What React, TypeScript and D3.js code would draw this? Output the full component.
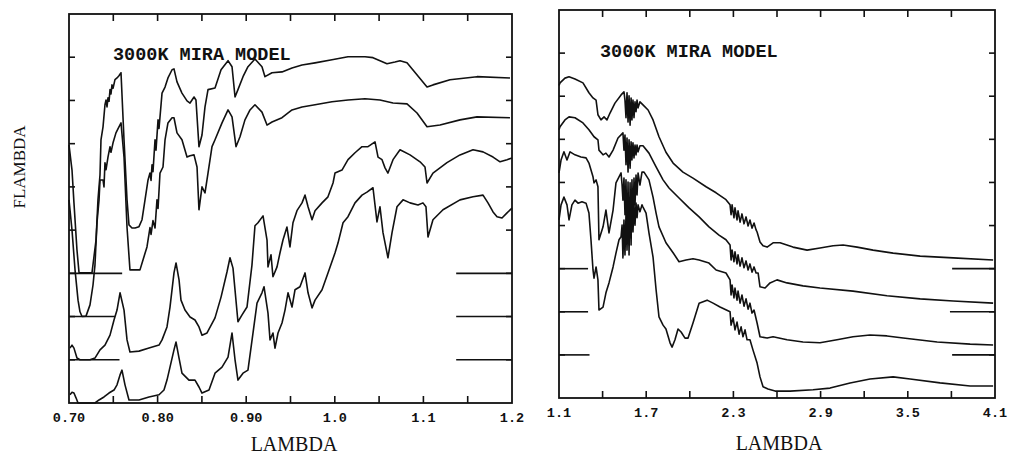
import React from "react";
import * as d3 from "d3";

type P = [number, number];

// Left panel (0.70 - 1.20 micron), flux relative to each curve's zero line
const leftA: P[] = [[0.700,2.97],[0.7034,2.39],[0.7056,1.63],[0.709,0.54],[0.7113,0.02],[0.718,0.01],[0.726,0.02],[0.7305,0.77],[0.7327,1.70],[0.735,2.28],[0.7361,3.09],[0.7384,3.39],[0.7406,3.90],[0.7418,4.01],[0.7429,3.85],[0.744,4.06],[0.7452,3.98],[0.7463,4.25],[0.7474,4.15],[0.7485,4.36],[0.7497,4.28],[0.7519,4.48],[0.7542,4.52],[0.7564,4.57],[0.7587,4.64],[0.7621,3.09],[0.7655,1.70],[0.7677,1.12],[0.7711,1.05],[0.7745,1.05],[0.779,1.08],[0.7824,1.24],[0.7858,1.70],[0.7892,2.16],[0.7914,2.32],[0.7926,2.15],[0.7937,2.51],[0.7948,2.35],[0.7971,3.09],[0.7982,2.85],[0.8005,3.55],[0.8016,3.35],[0.805,4.17],[0.8084,4.31],[0.8117,4.52],[0.8163,4.71],[0.8185,4.73],[0.8219,4.43],[0.8275,4.17],[0.8332,3.99],[0.8366,3.94],[0.8411,4.08],[0.8433,4.01],[0.8467,2.93],[0.8501,3.20],[0.8535,3.85],[0.8569,4.25],[0.8648,4.29],[0.8716,4.71],[0.8795,4.92],[0.884,4.78],[0.8874,4.08],[0.8907,4.25],[0.8964,4.55],[0.902,4.78],[0.9099,4.96],[0.9178,4.78],[0.9212,4.55],[0.9291,4.64],[0.9404,4.66],[0.9517,4.75],[0.963,4.82],[0.9777,4.87],[0.9968,4.94],[1.0149,5.01],[1.0341,5.01],[1.0431,4.99],[1.0589,4.85],[1.0679,4.89],[1.0736,4.92],[1.0815,4.87],[1.1041,4.31],[1.1108,4.36],[1.13,4.48],[1.1605,4.55],[1.1977,4.52]];

const leftB: P[] = [[0.700,2.70],[0.7034,2.00],[0.7068,1.08],[0.7102,0.38],[0.7124,0.11],[0.7147,0.0],[0.7192,0.01],[0.7237,0.27],[0.7271,0.73],[0.7293,1.19],[0.7316,2.17],[0.7339,2.70],[0.735,3.16],[0.7384,3.16],[0.7395,3.00],[0.7406,3.56],[0.7418,3.40],[0.744,3.69],[0.7463,3.93],[0.7474,3.80],[0.7497,4.02],[0.753,4.25],[0.7564,4.39],[0.7587,4.48],[0.7621,3.69],[0.7655,2.06],[0.7688,1.08],[0.7745,1.08],[0.7801,1.08],[0.7835,1.31],[0.788,1.61],[0.7914,2.06],[0.7926,1.90],[0.7948,2.22],[0.7971,2.05],[0.7993,2.70],[0.8005,2.50],[0.8027,3.32],[0.8061,3.46],[0.8084,4.09],[0.8117,4.48],[0.8163,4.60],[0.8185,4.60],[0.8219,4.25],[0.8275,4.09],[0.8332,3.69],[0.8366,3.72],[0.8411,3.74],[0.8445,3.46],[0.8467,2.47],[0.8501,3.00],[0.8535,2.86],[0.8569,3.32],[0.8614,3.93],[0.8648,4.09],[0.8727,4.48],[0.8795,4.78],[0.884,4.62],[0.8885,3.93],[0.893,4.16],[0.8986,4.55],[0.9043,4.78],[0.9099,4.90],[0.9178,4.73],[0.9235,4.43],[0.9291,4.50],[0.9404,4.60],[0.9517,4.78],[0.963,4.85],[0.9777,4.90],[0.9968,4.97],[1.0149,5.01],[1.0341,5.04],[1.051,5.01],[1.0657,4.94],[1.0815,4.92],[1.0928,4.71],[1.1041,4.39],[1.1187,4.43],[1.1413,4.55],[1.1605,4.62],[1.1977,4.60]];

const leftC: P[] = [[0.7011,0.27],[0.7034,0.34],[0.7056,0.27],[0.709,0.04],[0.7124,0.0],[0.7237,0.0],[0.7293,0.04],[0.735,0.23],[0.7406,0.34],[0.7463,0.57],[0.7508,0.92],[0.7542,1.15],[0.7576,1.55],[0.7621,1.15],[0.7655,0.46],[0.7688,0.18],[0.779,0.20],[0.7903,0.27],[0.8016,0.34],[0.805,0.46],[0.8106,0.76],[0.814,1.22],[0.8185,2.01],[0.8208,2.24],[0.8242,1.85],[0.8264,1.38],[0.8309,1.15],[0.8366,0.99],[0.8422,0.92],[0.8467,0.76],[0.8501,0.57],[0.8558,0.62],[0.8648,0.97],[0.8716,1.45],[0.8783,2.03],[0.8817,2.36],[0.8851,2.12],[0.8907,0.88],[0.8953,1.04],[0.9009,1.22],[0.9065,2.19],[0.9099,3.10],[0.9133,3.17],[0.919,3.33],[0.9235,2.77],[0.9246,2.15],[0.928,2.43],[0.9302,1.92],[0.9348,2.15],[0.9381,2.47],[0.9415,2.77],[0.946,3.07],[0.9494,2.61],[0.9528,3.17],[0.9573,3.45],[0.963,3.63],[0.9664,3.81],[0.9698,3.54],[0.9743,3.24],[0.9777,3.45],[0.9856,3.63],[0.9923,3.77],[0.998,4.09],[1.0002,4.32],[1.0081,4.39],[1.0149,4.63],[1.0228,4.79],[1.0307,4.93],[1.0375,4.93],[1.0454,5.04],[1.0488,4.69],[1.0533,4.63],[1.0567,4.44],[1.06,4.32],[1.0657,4.63],[1.0736,4.86],[1.0849,4.74],[1.0962,4.58],[1.1018,4.46],[1.1041,4.09],[1.1108,4.32],[1.1266,4.56],[1.1413,4.74],[1.156,4.86],[1.1673,4.81],[1.1786,4.69],[1.1865,4.58],[1.1944,4.63],[1.2,4.67]];

const leftD: P[] = [[0.7011,0.19],[0.7034,0.25],[0.7056,0.23],[0.7079,0.12],[0.7102,0.0],[0.7293,0.0],[0.7339,0.07],[0.7395,0.14],[0.7451,0.23],[0.7508,0.30],[0.7542,0.42],[0.7576,0.65],[0.7598,0.76],[0.7632,0.42],[0.7677,0.07],[0.779,0.07],[0.7903,0.14],[0.8016,0.19],[0.8072,0.30],[0.8106,0.53],[0.814,0.83],[0.8185,1.23],[0.8208,1.41],[0.8242,1.04],[0.8275,0.69],[0.8354,0.53],[0.8422,0.53],[0.8467,0.37],[0.8501,0.23],[0.858,0.30],[0.8648,0.69],[0.8727,0.83],[0.8795,1.06],[0.884,1.62],[0.8874,1.00],[0.8907,0.53],[0.8964,0.69],[0.902,0.76],[0.9077,1.62],[0.9122,2.31],[0.9178,2.55],[0.9201,2.69],[0.9246,2.08],[0.9269,1.46],[0.9302,1.62],[0.9325,1.27],[0.9359,1.62],[0.9404,1.85],[0.9438,2.15],[0.9472,2.55],[0.9517,2.22],[0.9551,2.62],[0.9607,2.69],[0.9664,3.01],[0.9698,2.55],[0.9743,2.20],[0.9777,2.38],[0.9856,2.62],[0.9923,3.01],[1.0002,3.47],[1.0036,3.70],[1.0093,4.17],[1.0149,4.31],[1.0228,4.63],[1.0307,4.81],[1.0363,4.88],[1.0431,4.98],[1.0476,4.19],[1.051,4.54],[1.0544,3.94],[1.06,3.36],[1.0646,3.94],[1.0702,4.54],[1.077,4.70],[1.0849,4.63],[1.0939,4.58],[1.0995,4.63],[1.1029,4.54],[1.1052,3.84],[1.1108,4.24],[1.1221,4.47],[1.1413,4.70],[1.156,4.77],[1.1673,4.81],[1.1729,4.63],[1.1786,4.42],[1.1831,4.31],[1.1887,4.28],[1.1944,4.40],[1.2,4.51]];

// Right panel (1.1 - 4.1 micron)
const rightA: P[] = [[1.1,4.25],[1.107,4.31],[1.141,4.42],[1.169,4.45],[1.21,4.40],[1.265,4.31],[1.306,4.08],[1.334,3.96],[1.355,3.91],[1.368,3.57],[1.389,3.45],[1.41,3.52],[1.43,3.45],[1.451,3.61],[1.485,3.84],[1.527,4.03],[1.547,4.10],[1.554,3.91],[1.561,3.50],[1.568,4.08],[1.575,3.40],[1.582,4.01],[1.589,3.33],[1.596,3.96],[1.602,3.45],[1.609,3.91],[1.616,3.50],[1.623,3.87],[1.63,3.64],[1.637,3.91],[1.644,3.73],[1.657,3.87],[1.678,3.80],[1.713,3.68],[1.747,3.45],[1.788,3.06],[1.836,2.70],[1.885,2.45],[1.953,2.24],[2.022,2.10],[2.112,1.90],[2.181,1.76],[2.249,1.60],[2.277,1.48],[2.284,1.25],[2.291,1.48],[2.304,1.18],[2.311,1.41],[2.325,1.13],[2.332,1.34],[2.346,1.08],[2.359,1.27],[2.373,1.04],[2.387,1.20],[2.401,0.99],[2.414,1.13],[2.428,0.94],[2.442,1.06],[2.456,0.90],[2.463,0.85],[2.483,0.62],[2.504,0.53],[2.532,0.50],[2.573,0.60],[2.621,0.60],[2.71,0.50],[2.807,0.43],[2.896,0.48],[2.986,0.53],[3.055,0.55],[3.151,0.50],[3.261,0.43],[3.399,0.36],[3.585,0.29],[3.812,0.25],[4.087,0.20]];

const rightB: P[] = [[1.1,4.22],[1.107,4.29],[1.141,4.45],[1.169,4.52],[1.21,4.50],[1.265,4.38],[1.306,4.22],[1.341,4.06],[1.368,3.99],[1.375,3.75],[1.403,3.64],[1.423,3.68],[1.444,3.59],[1.472,3.75],[1.506,4.03],[1.54,4.15],[1.547,3.75],[1.554,4.10],[1.561,3.41],[1.568,4.03],[1.575,3.24],[1.582,3.99],[1.589,3.33],[1.596,3.94],[1.602,3.52],[1.609,3.92],[1.616,3.57],[1.623,3.87],[1.63,3.64],[1.637,3.87],[1.644,3.71],[1.657,3.85],[1.678,3.85],[1.719,3.68],[1.768,3.36],[1.816,3.06],[1.857,2.87],[1.926,2.64],[1.995,2.41],[2.064,2.20],[2.132,1.97],[2.201,1.78],[2.249,1.67],[2.277,1.55],[2.284,1.20],[2.291,1.43],[2.304,1.16],[2.311,1.39],[2.325,1.11],[2.332,1.32],[2.346,1.06],[2.359,1.25],[2.373,1.02],[2.387,1.18],[2.401,0.97],[2.414,1.11],[2.428,0.92],[2.442,1.04],[2.456,0.90],[2.47,0.90],[2.483,0.58],[2.518,0.55],[2.552,0.67],[2.6,0.74],[2.669,0.67],[2.779,0.60],[2.896,0.55],[3.123,0.48],[3.357,0.37],[3.585,0.30],[3.812,0.25],[4.087,0.20]];

const rightC: P[] = [[1.1,4.22],[1.114,4.52],[1.134,4.71],[1.155,4.52],[1.176,4.71],[1.21,4.64],[1.251,4.59],[1.286,4.57],[1.306,4.45],[1.334,4.13],[1.341,3.99],[1.355,4.06],[1.368,3.90],[1.375,2.67],[1.403,2.97],[1.423,3.36],[1.444,2.83],[1.472,3.36],[1.492,3.99],[1.527,4.22],[1.534,3.94],[1.54,3.59],[1.547,4.10],[1.554,3.25],[1.561,4.06],[1.568,2.67],[1.575,4.01],[1.582,2.32],[1.589,3.99],[1.596,2.55],[1.602,4.06],[1.609,3.02],[1.616,4.10],[1.623,3.48],[1.63,4.17],[1.637,3.71],[1.644,4.22],[1.657,3.94],[1.671,4.24],[1.685,4.24],[1.719,4.06],[1.747,3.66],[1.768,3.29],[1.788,2.97],[1.836,2.60],[1.885,2.37],[1.926,2.16],[1.974,2.20],[2.022,2.23],[2.064,2.20],[2.132,2.13],[2.181,1.97],[2.249,1.90],[2.277,1.74],[2.284,1.39],[2.291,1.62],[2.304,1.32],[2.311,1.55],[2.325,1.27],[2.332,1.48],[2.346,1.20],[2.359,1.39],[2.373,1.13],[2.387,1.30],[2.401,1.06],[2.414,1.20],[2.428,0.97],[2.442,1.04],[2.463,0.74],[2.483,0.42],[2.532,0.39],[2.573,0.42],[2.669,0.35],[2.779,0.30],[2.896,0.28],[3.013,0.35],[3.123,0.42],[3.24,0.46],[3.357,0.44],[3.468,0.39],[3.702,0.30],[3.929,0.25],[4.087,0.23]];

const rightD: P[] = [[1.1,4.13],[1.114,4.48],[1.134,4.66],[1.155,4.48],[1.169,4.13],[1.189,4.48],[1.21,4.59],[1.231,4.52],[1.258,4.55],[1.286,4.52],[1.306,4.29],[1.32,3.67],[1.334,2.97],[1.341,2.78],[1.355,3.04],[1.368,2.74],[1.375,2.04],[1.403,2.11],[1.423,2.44],[1.444,2.67],[1.472,3.04],[1.492,3.36],[1.513,3.67],[1.527,3.74],[1.534,4.01],[1.54,3.25],[1.547,4.13],[1.554,3.32],[1.561,4.25],[1.568,3.43],[1.575,4.32],[1.582,3.55],[1.589,4.41],[1.596,3.71],[1.602,4.48],[1.609,3.85],[1.616,4.48],[1.623,4.01],[1.63,4.52],[1.637,4.18],[1.644,4.48],[1.657,4.32],[1.671,4.48],[1.678,4.43],[1.699,4.29],[1.719,3.83],[1.747,3.27],[1.768,2.51],[1.788,1.88],[1.816,1.69],[1.836,1.60],[1.864,1.28],[1.878,1.18],[1.898,1.35],[1.919,1.60],[1.94,1.53],[1.967,1.39],[1.988,1.39],[2.022,1.74],[2.064,2.20],[2.119,2.27],[2.16,2.20],[2.208,2.11],[2.277,2.00],[2.284,1.69],[2.298,1.86],[2.311,1.58],[2.325,1.76],[2.339,1.48],[2.353,1.65],[2.366,1.42],[2.38,1.58],[2.394,1.35],[2.414,1.35],[2.435,1.11],[2.463,0.81],[2.483,0.49],[2.504,0.26],[2.538,0.21],[2.587,0.16],[2.69,0.16],[2.848,0.19],[2.965,0.23],[3.103,0.35],[3.24,0.44],[3.399,0.49],[3.516,0.44],[3.722,0.35],[3.929,0.28],[4.087,0.28]];

const offsets = [3, 2, 1, 0];

const leftTickVals = [0.75, 0.8, 0.85, 0.9, 0.95, 1.0, 1.05, 1.1, 1.15];
const leftLabelVals = [0.7, 0.8, 0.9, 1.0, 1.1, 1.2];
const leftLabels = ["0.70", "0.80", "0.90", "1.0", "1.1", "1.2"];
const rightTickVals = [1.4, 1.7, 2.0, 2.3, 2.6, 2.9, 3.2, 3.5, 3.8];
const rightLabelVals = [1.1, 1.7, 2.3, 2.9, 3.5, 4.1];
const rightLabels = ["1.1", "1.7", "2.3", "2.9", "3.5", "4.1"];
const yTickVals = [1, 2, 3, 4, 5, 6, 7, 8];

// zero-level marks: [offset, x0, x1]
const leftZeroMarks: [number, number, number][] = [[3, 0.70, 0.76], [2, 0.70, 0.752], [1, 0.70, 0.757], [3, 1.137, 1.2], [2, 1.137, 1.2], [1, 1.137, 1.2]];
const rightZeroMarks: [number, number, number][] = [[3, 1.1, 1.30], [2, 1.1, 1.30], [1, 1.1, 1.31], [3, 3.805, 4.1], [2, 3.79, 4.1], [1, 3.805, 4.1]];

const title = "3000K MIRA MODEL";

type PanelProps = {
  xDomain: [number, number];
  xRange: [number, number];
  yRange: [number, number];
  curves: P[][];
  ticks: number[];
  labelVals: number[];
  labels: string[];
  zeroMarks: [number, number, number][];
  labelBaseline: number;
  titleX: number;
  titleY: number;
  xTitleX: number;
  xTitleY: number;
};

function Panel(p: PanelProps) {
  const x = d3.scaleLinear().domain(p.xDomain).range(p.xRange);
  const y = d3.scaleLinear().domain([0, 9]).range(p.yRange);
  const [x0, x1] = p.xRange;
  const [yb, yt] = p.yRange;
  const tl = 7;
  return (
    <g>
      {p.curves.map((c, i) => {
        const line = d3
          .line<P>()
          .x((d) => x(d[0]))
          .y((d) => y(d[1] + offsets[i]));
        return <path key={i} d={line(c) || ""} fill="none" stroke="#111" strokeWidth={1.6} strokeLinejoin="round" />;
      })}
      {p.zeroMarks.map((m, i) => (
        <line key={"z" + i} x1={x(m[1])} x2={x(m[2])} y1={y(m[0])} y2={y(m[0])} stroke="#111" strokeWidth={1.6} />
      ))}
      <rect x={x0} y={yt} width={x1 - x0} height={yb - yt} fill="none" stroke="#111" strokeWidth={1.8} />
      {p.ticks.map((t, i) => (
        <g key={"t" + i}>
          <line x1={x(t)} x2={x(t)} y1={yt} y2={yt + tl} stroke="#111" strokeWidth={1.6} />
          <line x1={x(t)} x2={x(t)} y1={yb} y2={yb - tl} stroke="#111" strokeWidth={1.6} />
        </g>
      ))}
      {yTickVals.map((t, i) => (
        <g key={"y" + i}>
          <line x1={x0} x2={x0 + 6} y1={y(t)} y2={y(t)} stroke="#111" strokeWidth={1.6} />
          <line x1={x1} x2={x1 - 6} y1={y(t)} y2={y(t)} stroke="#111" strokeWidth={1.6} />
        </g>
      ))}
      {p.labelVals.map((v, i) => (
        <text key={"l" + i} x={x(v)} y={p.labelBaseline} textAnchor="middle" fontFamily="'Liberation Mono', monospace" fontWeight="bold" fontSize={13.5} fill="#111">
          {p.labels[i]}
        </text>
      ))}
      <text x={p.titleX} y={p.titleY} fontFamily="'Liberation Mono', monospace" fontWeight="bold" fontSize={18.5} fill="#111">
        {title}
      </text>
      <text x={p.xTitleX} y={p.xTitleY} textAnchor="middle" fontFamily="'Liberation Serif', serif" fontSize={20} fill="#111">
        LAMBDA
      </text>
    </g>
  );
}

export default function App() {
  return (
    <svg width={1009} height={456} style={{ position: "absolute", left: 0, top: 0, background: "#fff" }}>
      <rect width={1009} height={456} fill="#fff" />
      <Panel
        xDomain={[0.7, 1.2]}
        xRange={[69, 512]}
        yRange={[403, 14]}
        curves={[leftA, leftB, leftC, leftD]}
        ticks={leftTickVals}
        labelVals={leftLabelVals}
        labels={leftLabels}
        zeroMarks={leftZeroMarks}
        labelBaseline={422}
        titleX={113}
        titleY={60}
        xTitleX={294}
        xTitleY={451}
      />
      <Panel
        xDomain={[1.1, 4.1]}
        xRange={[559, 995]}
        yRange={[398, 10]}
        curves={[rightA, rightB, rightC, rightD]}
        ticks={rightTickVals}
        labelVals={rightLabelVals}
        labels={rightLabels}
        zeroMarks={rightZeroMarks}
        labelBaseline={417}
        titleX={600}
        titleY={57}
        xTitleX={779}
        xTitleY={450}
      />
      <text transform="translate(25,167) rotate(-90)" textAnchor="middle" fontFamily="'Liberation Serif', serif" fontSize={17} fill="#111">
        FLAMBDA
      </text>
    </svg>
  );
}
